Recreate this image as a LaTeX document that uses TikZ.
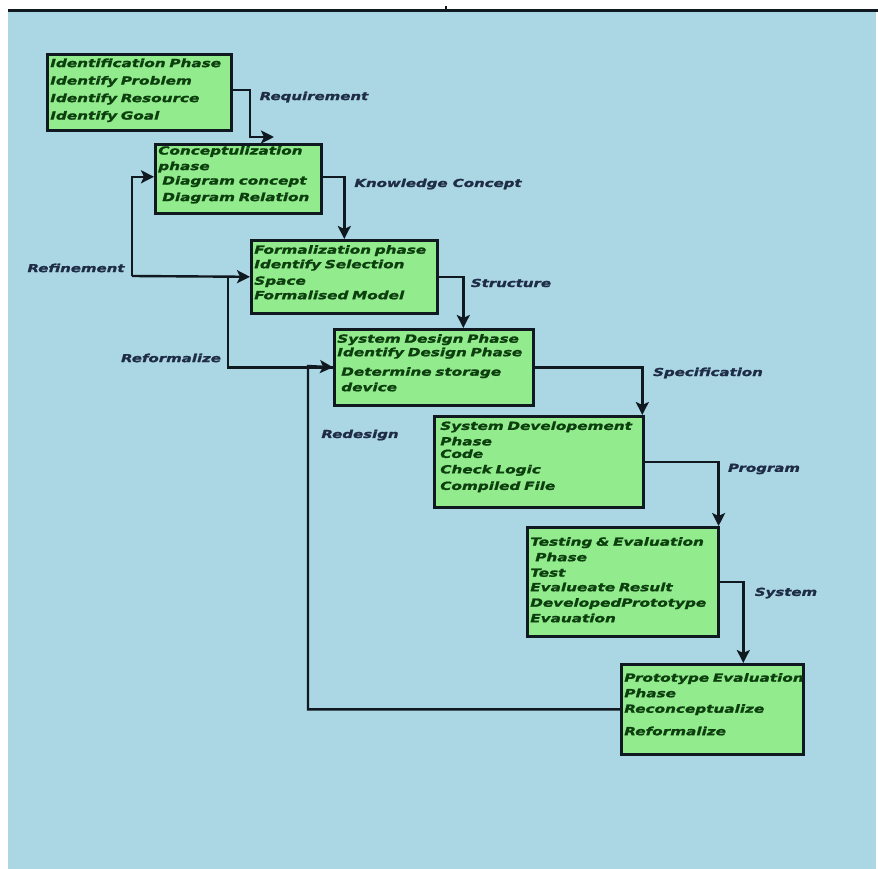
\documentclass[tikz,border=0pt]{standalone}
\usepackage{fontspec}
\setmainfont{DejaVu Sans}[FakeStretch=1.36,BoldItalicFeatures={FakeBold=1.5}]
\usetikzlibrary{arrows.meta,calc}
\definecolor{bgblue}{HTML}{ABD6E4}
\definecolor{boxgreen}{HTML}{92EC8E}
\definecolor{boxtext}{HTML}{0C3E0E}
\definecolor{labtext}{HTML}{1E2C46}
\definecolor{linecol}{HTML}{101820}
\newcommand{\bxline}[1]{\mbox{#1}}
\newcommand{\liftby}[1]{\endgraf\vspace*{#1}}
\begin{document}
\begin{tikzpicture}[x=1pt,y=-1pt,
  phasebox/.style={draw=linecol,line width=2.6pt,fill=boxgreen,anchor=north west,
    align=left,inner xsep=3pt,inner ysep=0pt,text=boxtext,
    font=\fontsize{11.2}{15.5}\selectfont\bfseries\itshape},
  lift/.style={execute at end node={\liftby{#1}}},
  flowlabel/.style={text=labtext,font=\fontsize{11}{13}\selectfont\bfseries\itshape,inner sep=0pt},
  conn/.style={draw=linecol,line width=2.4pt},
  arr/.style={conn,-{Stealth[length=13pt,width=13pt,inset=3pt]}}]
\useasboundingbox (0,0) rectangle (878,869);
\fill[white] (0,0) rectangle (878,869);
\fill[bgblue] (8,11) rectangle (876,869);
\draw[linecol,line width=3pt] (8,10.5) -- (878,10.5);
\draw[linecol,line width=2pt] (446,6) -- (446,10);

\node[phasebox,lift=4pt,minimum width=184,minimum height=76,text width=178] (b1) at (46,53)
  {\bxline{Identification Phase}\\[2pt]\bxline{Identify Problem}\\[2pt]\bxline{Identify Resource}\\[2pt]\bxline{Identify Goal}};
\node[phasebox,lift=8pt,minimum width=166,minimum height=69,text width=160] (b2) at (154,143)
  {\bxline{Conceptulization}\\\bxline{phase}\\[-1pt]\bxline{\hspace*{4pt}Diagram concept}\\[1pt]\bxline{\hspace*{4pt}Diagram Relation}};
\node[phasebox,lift=9pt,minimum width=186,minimum height=73,text width=180] (b3) at (250,239)
  {\bxline{Formalization phase}\\[-1pt]\bxline{Identify Selection}\\[1pt]\bxline{Space}\\[-1pt]\bxline{Formalised Model}};
\node[phasebox,lift=9pt,minimum width=199,minimum height=76,text width=193] (b4) at (333,328)
  {\bxline{System Design Phase}\\[-2pt]\bxline{Identify Design Phase}\\[4pt]\bxline{\hspace*{4pt}Determine storage}\\\bxline{\hspace*{4pt}device}};
\node[phasebox,lift=10pt,minimum width=209,minimum height=91,text width=203] (b5) at (433,415)
  {\bxline{\hspace*{3pt}System Developement}\\\bxline{\hspace*{3pt}Phase}\\[-3pt]\bxline{\hspace*{3pt}Code}\\\bxline{\hspace*{3pt}Check Logic}\\[1pt]\bxline{\hspace*{3pt}Compiled File}};
\node[phasebox,lift=4pt,minimum width=191,minimum height=109,text width=185] (b6) at (526,526)
  {\bxline{Testing \& Evaluation}\\\bxline{\hspace*{5pt}Phase}\\\bxline{Test}\\[-1pt]\bxline{Evalueate Result}\\\bxline{DevelopedPrototype}\\\bxline{Evauation}};
\node[phasebox,lift=10pt,minimum width=182,minimum height=90,text width=176] (b7) at (620,663)
  {\bxline{Prototype Evaluation}\\\bxline{Phase}\\\bxline{Reconceptualize}\\[7pt]\bxline{Reformalize}};

\node[flowlabel] (l1) at (314,97) {Requirement};
\node[flowlabel] (l2) at (438,184) {Knowledge Concept};
\node[flowlabel] (l3) at (511,283) {Structure};
\node[flowlabel] (l4) at (708,373) {Specification};
\node[flowlabel] (l5) at (764,469) {Program};
\node[flowlabel] (l6) at (786,593) {System};
\node[flowlabel] (l7) at (76,268) {Refinement};
\node[flowlabel] (l8) at (171,358) {Reformalize};
\node[flowlabel] (l9) at (360,435) {Redesign};

\coordinate (reqmid) at (250,137);
\coordinate (reqend) at (274,137);
\coordinate (rf) at (132,276);
\coordinate (rz) at (228,276);
\coordinate (rd) at (308,366);

\draw[arr] ([yshift=2pt]b1.east) -| (reqmid) -- (reqend);
\draw[arr] ([yshift=2pt]b2.east) -| (b3.north);
\draw[arr] (b3.east) -| ([xshift=29.5pt]b4.north);
\draw[arr] (b4.east) -| ([xshift=103.5pt]b5.north);
\draw[arr] (b5.east) -| ([xshift=-1pt]b6.north east);
\draw[arr] (b6.east) -| ([xshift=31pt]b7.north);
\draw[arr] (rf) -- (b3.west);
\draw[arr] (rf) |- ([yshift=2pt]b2.west);
\draw[conn] (rz) |- (b4.west);
\draw[arr] (b7.west) -| (rd) -- (b4.west);
\end{tikzpicture}
\end{document}
